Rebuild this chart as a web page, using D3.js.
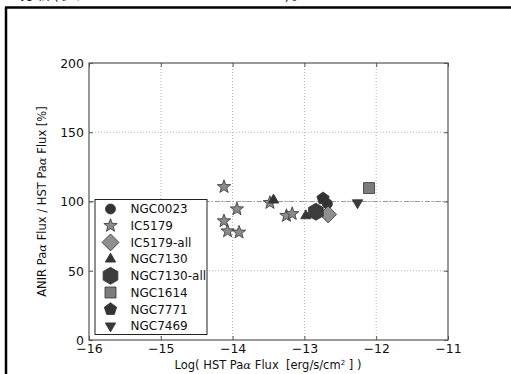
<!DOCTYPE html>
<html>
<head>
<meta charset="utf-8">
<script src="https://cdn.jsdelivr.net/npm/d3@7"></script>
<style>
  body { margin: 0; background: #fff; }
  svg { display: block; }
  text { font-family: "DejaVu Sans", sans-serif; }
</style>
</head>
<body>
<svg id="chart" width="511" height="374"></svg>
<script>
// data
var galaxies = ["NGC0023", "IC5179", "IC5179-all", "NGC7130", "NGC7130-all", "NGC1614", "NGC7771", "NGC7469"];
var logFlux = {
    "NGC0023": [-12.68],
    "IC5179": [-14.12, -13.94, -14.12, -14.07, -13.91, -13.48, -13.25, -13.17],
    "IC5179-all": [-12.67],
    "NGC7130": [-13.43, -12.98],
    "NGC7130-all": [-12.84],
    "NGC1614": [-12.10],
    "NGC7771": [-12.74],
    "NGC7469": [-12.26]
};
var fluxRatio = {
    "NGC0023": [98.3],
    "IC5179": [110.6, 94.5, 85.9, 78.6, 77.7, 99.1, 89.7, 91.1],
    "IC5179-all": [90.7],
    "NGC7130": [101, 89.7],
    "NGC7130-all": [92.6],
    "NGC1614": [109.7],
    "NGC7771": [102.2],
    "NGC7469": [99.1]
};
var xTicks = [-16, -15, -14, -13, -12, -11];
var yTicks = [0, 50, 100, 150, 200];

// marker style per galaxy
var styles = {
    "NGC0023":     { shape: "circle",   size: 5,   fill: "#333" },
    "IC5179":      { shape: "star",     size: 7,   fill: "#8a8a8a" },
    "IC5179-all":  { shape: "diamond",  size: 8.5, fill: "#8f8f8f" },
    "NGC7130":     { shape: "triangle", size: 6,   fill: "#353535" },
    "NGC7130-all": { shape: "hexagon",  size: 8.5, fill: "#3c3c3c" },
    "NGC1614":     { shape: "square",   size: 5.5, fill: "#7c7c7c" },
    "NGC7771":     { shape: "pentagon", size: 6.5, fill: "#333" },
    "NGC7469":     { shape: "tridown",  size: 6,   fill: "#3a3a3a" }
};

function polygon(n, r, rot) {
    var pts = [];
    for (var i = 0; i < n; i++) {
        var a = rot + i * 2 * Math.PI / n;
        pts.push([r * Math.sin(a), -r * Math.cos(a)]);
    }
    return "M" + pts.map(p => p[0].toFixed(2) + "," + p[1].toFixed(2)).join("L") + "Z";
}
function star(r) {
    var pts = [];
    for (var i = 0; i < 10; i++) {
        var rr = i % 2 ? r * 0.42 : r;
        var a = i * Math.PI / 5;
        pts.push([rr * Math.sin(a), -rr * Math.cos(a)]);
    }
    return "M" + pts.map(p => p[0].toFixed(2) + "," + p[1].toFixed(2)).join("L") + "Z";
}
function markerPath(s) {
    var r = s.size;
    switch (s.shape) {
        case "circle": return d3.symbol(d3.symbolCircle, Math.PI * r * r)();
        case "star": return star(r);
        case "diamond": return polygon(4, r, 0);
        case "triangle": return polygon(3, r, 0);
        case "tridown": return polygon(3, r, Math.PI);
        case "hexagon": return polygon(6, r, 0);
        case "pentagon": return polygon(5, r, 0);
        case "square": return polygon(4, r * Math.SQRT2, Math.PI / 4);
    }
}

var svg = d3.select("#chart");

// page frame and the cut-off caption line above it
svg.append("text")
    .attr("x", 20).attr("y", -1.5)
    .style("font-family", "'Noto Sans CJK SC', sans-serif")
    .style("font-size", "15px")
    .style("letter-spacing", "1.6px")
    .attr("fill", "#222")
    .text("分析(参见 Matsumoto et al. 2012)。");
svg.append("line").attr("x1", 5).attr("x2", 511).attr("y1", 7.5).attr("y2", 7.5)
    .attr("stroke", "#000").attr("stroke-width", 2.5);
svg.append("line").attr("x1", 6).attr("x2", 6).attr("y1", 7).attr("y2", 374)
    .attr("stroke", "#000").attr("stroke-width", 2.5);

var mLeft = 89, mRight = 448, mTop = 63, mBottom = 340;
var x = d3.scaleLinear().domain([-16, -11]).range([mLeft, mRight]);
var y = d3.scaleLinear().domain([0, 200]).range([mBottom, mTop]);

// grid
var grid = svg.append("g");
grid.selectAll(".vg").data(xTicks.slice(1, -1)).enter().append("line")
    .attr("x1", d => x(d)).attr("x2", d => x(d))
    .attr("y1", mTop).attr("y2", mBottom)
    .attr("stroke", "#b5b5b5").attr("stroke-width", 1).attr("stroke-dasharray", "1,2");
grid.selectAll(".hg").data(yTicks.slice(1, -1)).enter().append("line")
    .attr("x1", mLeft).attr("x2", mRight)
    .attr("y1", d => y(d)).attr("y2", d => y(d))
    .attr("stroke", "#b5b5b5").attr("stroke-width", 1).attr("stroke-dasharray", "1,2");

// reference line at 100%
svg.append("line")
    .attr("x1", mLeft).attr("x2", mRight)
    .attr("y1", y(100)).attr("y2", y(100))
    .attr("stroke", "#999").attr("stroke-width", 1.2)
    .attr("stroke-dasharray", "5,2,1.5,2");

// axes
var fmt = d => d < 0 ? "\u2212" + Math.abs(d) : String(d);
var xAxis = svg.append("g").attr("transform", "translate(0," + mBottom + ")")
    .call(d3.axisBottom(x).tickValues(xTicks).tickFormat(fmt).tickSizeInner(-4).tickSizeOuter(0).tickPadding(6));
var yAxis = svg.append("g").attr("transform", "translate(" + mLeft + ",0)")
    .call(d3.axisLeft(y).tickValues(yTicks).tickFormat(fmt).tickSizeInner(-4).tickSizeOuter(0).tickPadding(5));
svg.append("g").attr("transform", "translate(0," + mTop + ")")
    .call(d3.axisTop(x).tickValues(xTicks).tickFormat("").tickSizeInner(-4).tickSizeOuter(0));
svg.append("g").attr("transform", "translate(" + mRight + ",0)")
    .call(d3.axisRight(y).tickValues(yTicks).tickFormat("").tickSizeInner(-4).tickSizeOuter(0));
svg.selectAll(".domain").remove();
svg.selectAll(".tick line").attr("stroke", "#555");
svg.selectAll(".tick text").attr("fill", "#111").style("font-size", "12.5px")
    .style("font-family", "'DejaVu Sans', sans-serif");
xAxis.selectAll(".tick text").attr("dy", "0.55em");
yAxis.selectAll(".tick text").attr("dy", "0.35em");
svg.append("rect")
    .attr("x", mLeft).attr("y", mTop).attr("width", mRight - mLeft).attr("height", mBottom - mTop)
    .attr("fill", "none").attr("stroke", "#555").attr("stroke-width", 1.2);

// axis labels
svg.append("text")
    .attr("x", 268).attr("y", 369)
    .attr("text-anchor", "middle")
    .attr("xml:space", "preserve")
    .style("font-size", "11.5px").attr("fill", "#111")
    .html('Log( HST Pa<tspan font-family="DejaVu Serif" font-style="italic">α</tspan> Flux  [erg/s/cm<tspan dy="-4" font-size="7px">2</tspan><tspan dy="4"> ] )</tspan>');
svg.append("text")
    .attr("transform", "translate(46," + ((mTop + mBottom) / 2) + ") rotate(-90)")
    .attr("text-anchor", "middle")
    .style("font-size", "11.5px").attr("fill", "#111")
    .html('ANIR Pa<tspan font-family="DejaVu Serif" font-style="italic">α</tspan> Flux / HST Pa<tspan font-family="DejaVu Serif" font-style="italic">α</tspan> Flux [%]');

// points
var pts = svg.append("g");
galaxies.forEach(g => {
    var s = styles[g];
    var path = markerPath(s);
    pts.selectAll(null)
        .data(logFlux[g].map((v, i) => [v, fluxRatio[g][i]]))
        .enter().append("path")
        .attr("d", path)
        .attr("transform", d => "translate(" + x(d[0]) + "," + y(d[1]) + ")")
        .attr("fill", s.fill)
        .attr("stroke", "#333").attr("stroke-width", 0.8);
});

// legend
var lg = svg.append("g").attr("transform", "translate(95,199.5)");
lg.append("rect").attr("width", 112).attr("height", 135)
    .attr("fill", "#fff").attr("stroke", "#222").attr("stroke-width", 1);
var item = lg.selectAll(".item").data(galaxies).enter().append("g")
    .attr("transform", (d, i) => "translate(0," + (9.5 + i * 16.7) + ")");
item.append("path")
    .attr("d", d => markerPath(styles[d]))
    .attr("transform", "translate(15.5,0)")
    .attr("fill", d => styles[d].fill)
    .attr("stroke", "#333").attr("stroke-width", 0.8);
item.append("text")
    .attr("x", 35.5).attr("dy", "0.36em")
    .style("font-size", "12px").attr("fill", "#111")
    .text(d => d);
</script>
</body>
</html>
